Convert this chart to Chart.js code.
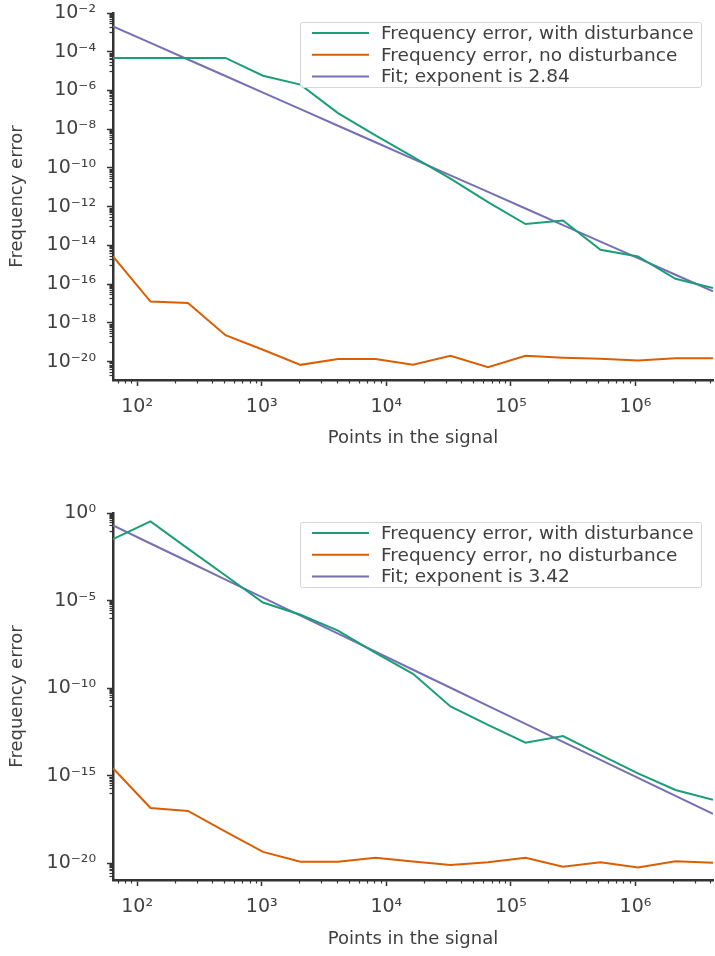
<!DOCTYPE html>
<html><head><meta charset="utf-8">
<script src="https://cdn.jsdelivr.net/npm/chart.js@4/dist/chart.umd.min.js"></script>
<style>
html,body{margin:0;padding:0;background:#fff;}
#wrap{position:relative;width:715px;height:956px;overflow:hidden;}
canvas{position:absolute;left:0;}
</style></head><body>
<div id="wrap">
<canvas id="topChart" width="715" height="478" style="top:0"></canvas>
<canvas id="bottomChart" width="715" height="478" style="top:478px"></canvas>
</div>
<script>
// ---------- data ----------
const pointsInSignal = [64,128,256,512,1024,2048,4096,8192,16384,32768,65536,131072,262144,524288,1048576,2097152,4194304];

const topWithDisturbance = [4.8e-5,4.8e-5,4.8e-5,4.8e-5,5.8e-6,2.0e-6,6.8e-8,4.8e-9,3.7e-10,2.8e-11,1.7e-12,1.26e-13,1.95e-13,5.9e-15,2.7e-15,1.9e-16,6.3e-17];
const topNoDisturbance   = [2.7e-15,1.26e-17,1.05e-17,2.3e-19,4.1e-20,6.8e-21,1.35e-20,1.35e-20,6.8e-21,2.0e-20,5.1e-21,2.0e-20,1.6e-20,1.4e-20,1.15e-20,1.5e-20,1.5e-20];
const topFit             = [2.04e-3,2.85e-4,3.98e-5,5.56e-6,7.76e-7,1.08e-7,1.51e-8,2.11e-9,2.95e-10,4.12e-11,5.75e-12,8.04e-13,1.12e-13,1.57e-14,2.19e-15,3.05e-16,4.27e-17];

const bottomWithDisturbance = [3.2e-2,0.33,9.3e-3,2.7e-4,7.8e-6,1.55e-6,1.95e-7,1.05e-8,6.6e-10,9.1e-12,8.1e-13,7.8e-14,1.86e-13,1.55e-14,1.38e-15,1.55e-16,4.2e-17];
const bottomNoDisturbance   = [2.7e-15,1.45e-17,9.8e-18,6.5e-19,4.5e-20,1.23e-20,1.23e-20,2.1e-20,1.26e-20,8.1e-21,1.15e-20,2.1e-20,6.5e-21,1.15e-20,5.9e-21,1.3e-20,1.07e-20];
const bottomFit             = [1.95e-1,1.82e-2,1.70e-3,1.59e-4,1.49e-5,1.39e-6,1.30e-7,1.21e-8,1.13e-9,1.06e-10,9.89e-12,9.23e-13,8.63e-14,8.06e-15,7.53e-16,7.03e-17,6.6e-18];

const seriesLabels = ['Frequency error, with disturbance','Frequency error, no disturbance'];
const topFitLabel = 'Fit; exponent is 2.84';
const bottomFitLabel = 'Fit; exponent is 3.42';

const xTickExponents = [2,3,4,5,6];
const topYTickExponents = [-2,-4,-6,-8,-10,-12,-14,-16,-18,-20];
const bottomYTickExponents = [0,-5,-10,-15,-20];

const xTitle = 'Points in the signal';
const yTitle = 'Frequency error';

// ---------- style ----------
const FONT = "'DejaVu Sans', sans-serif";
const TEXT = '#404040';
const AXIS = '#333333';
const COLORS = ['#1b9e77','#d95f02','#7570b3'];

const SUP = {'-':'\u207B','0':'\u2070','1':'\u00B9','2':'\u00B2','3':'\u00B3','4':'\u2074','5':'\u2075','6':'\u2076','7':'\u2077','8':'\u2078','9':'\u2079'};
function powLabel(v){
  const e = Math.round(Math.log10(v));
  return '10' + String(e).split('').map(c=>SUP[c]).join('');
}

const minorTicks = {
  id:'minorTicks',
  afterDraw(chart){
    const ctx = chart.ctx, xs = chart.scales.x, ys = chart.scales.y;
    const majors = chart.options.plugins.minorTicks.majors;
    ctx.save();
    ctx.strokeStyle = AXIS; ctx.lineWidth = 1.2;
    for (let e=1;e<=6;e++) for (let j=2;j<=9;j++){
      const v = j*Math.pow(10,e);
      if (v < xs.min || v > xs.max) continue;
      const px = Math.round(xs.getPixelForValue(v))+0.5;
      ctx.beginPath(); ctx.moveTo(px, xs.top); ctx.lineTo(px, xs.top+3.5); ctx.stroke();
    }
    majors.forEach(M=>{
      for (let j=1;j<=9;j++){
        const v = j*Math.pow(10,M-1);
        if (v < ys.min || v > ys.max) continue;
        const py = Math.round(ys.getPixelForValue(v))+0.5;
        ctx.beginPath(); ctx.moveTo(ys.right, py); ctx.lineTo(ys.right-3.5, py); ctx.stroke();
      }
    });
    ctx.restore();
  }
};

const boxLegend = {
  id:'boxLegend',
  afterDraw(chart){
    const ctx = chart.ctx, ca = chart.chartArea;
    const ds = chart.data.datasets;
    const right = ca.right - 12, left = 300, top = ca.top + 9;
    const w = right-left, h = 65;
    ctx.save();
    ctx.fillStyle = 'rgba(255,255,255,0.85)';
    ctx.strokeStyle = '#d6d6d6'; ctx.lineWidth = 1;
    ctx.beginPath();
    if (ctx.roundRect) ctx.roundRect(left+0.5, top+0.5, w, h, 2); else ctx.rect(left+0.5, top+0.5, w, h);
    ctx.fill(); ctx.stroke();
    ctx.font = '18.5px ' + FONT; ctx.textBaseline = 'middle'; ctx.textAlign = 'left';
    ds.forEach((d,i)=>{
      const y = top + 11 + i*21.8;
      ctx.strokeStyle = d.borderColor; ctx.lineWidth = 2;
      ctx.beginPath(); ctx.moveTo(left+12, y); ctx.lineTo(left+69, y); ctx.stroke();
      ctx.fillStyle = TEXT;
      ctx.fillText(d.label, left+81, y+1);
    });
    ctx.restore();
  }
};

function mk(values){ return pointsInSignal.map((x,i)=>({x, y: values[i]})); }

function makeChart(id, series, fitLabel, yExps, yMin, yMax, padTop, xHeight, xTitlePad){
  const datasets = [
    {label: seriesLabels[0], data: mk(series[0]), borderColor: COLORS[0]},
    {label: seriesLabels[1], data: mk(series[1]), borderColor: COLORS[1]},
    {label: fitLabel, data: mk(series[2]), borderColor: COLORS[2]}
  ].map(d=>Object.assign(d,{borderWidth:2, pointRadius:0, fill:false, tension:0, backgroundColor:d.borderColor}));
  return new Chart(document.getElementById(id), {
    type:'line',
    data:{datasets},
    plugins:[minorTicks, boxLegend],
    options:{
      responsive:false, animation:false, devicePixelRatio:1,
      layout:{padding:{top:padTop,right:2,left:0,bottom:0}},
      plugins:{legend:{display:false}, tooltip:{enabled:false}, minorTicks:{majors:yExps}},
      scales:{
        x:{
          type:'logarithmic', position:'bottom', min:64, max:4194304,
          afterBuildTicks:s=>{ s.ticks = xTickExponents.map(e=>({value:Math.pow(10,e)})); },
          afterFit:s=>{ s.height = xHeight; s.paddingLeft = 0; s.paddingRight = 0; },
          ticks:{callback:v=>powLabel(v), font:{family:FONT,size:19}, color:TEXT, padding:10, maxRotation:0, autoSkip:false},
          grid:{display:true, drawOnChartArea:false, drawTicks:true, tickLength:6, tickColor:AXIS, tickWidth:1.5},
          border:{display:true, color:AXIS, width:2.5},
          title:{display:true, text:xTitle, font:{family:FONT,size:18}, color:TEXT, padding:{top:0,bottom:xTitlePad}}
        },
        y:{
          type:'logarithmic', position:'left', min:yMin, max:yMax,
          afterBuildTicks:s=>{ s.ticks = yExps.map(e=>({value:Math.pow(10,e)})); },
          afterFit:s=>{ s.width = 113; s.paddingTop = 0; s.paddingBottom = 0; },
          ticks:{callback:v=>powLabel(v), font:{family:FONT,size:19}, color:TEXT, padding:11, autoSkip:false},
          grid:{display:true, drawOnChartArea:false, drawTicks:true, tickLength:6, tickColor:AXIS, tickWidth:1.5},
          border:{display:true, color:AXIS, width:2.5},
          title:{display:true, text:yTitle, font:{family:FONT,size:18}, color:TEXT, padding:{top:6.7,bottom:0}}
        }
      }
    }
  });
}

makeChart('topChart', [topWithDisturbance, topNoDisturbance, topFit], topFitLabel, topYTickExponents, Math.pow(10,-20.95), 1e-2, 13, 98, 29);
makeChart('bottomChart', [bottomWithDisturbance, bottomNoDisturbance, bottomFit], bottomFitLabel, bottomYTickExponents, Math.pow(10,-20.95), 1, 35, 76, 6.2);
</script>
</body></html>
